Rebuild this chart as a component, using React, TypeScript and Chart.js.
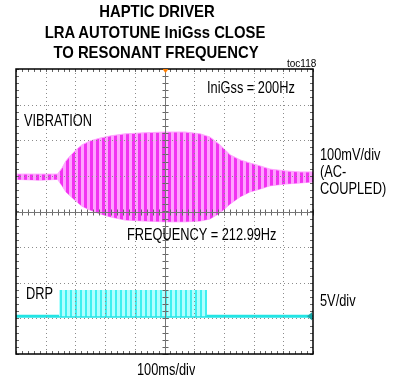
import React, { useEffect, useRef } from "react";
import { Chart, registerables } from "chart.js";
Chart.register(...registerables);

// time axis in ms (100 ms/div, 10 divisions); vertical axis in divisions (-4..4)
const X_MIN = 0;
const X_MAX = 1000;
const X_STEP = 100;
const Y_MIN = -4;
const Y_MAX = 4;

// VIBRATION trace envelope (divisions)
const VIB_TIME = [0, 80, 140, 155, 168, 182, 202, 222, 249, 283, 316, 367, 434, 502, 569, 620, 653, 687, 721, 754, 788, 822, 855, 906, 956, 1000];
const VIB_TOP = [1.05, 1.05, 1.05, 1.22, 1.42, 1.56, 1.73, 1.87, 1.98, 2.06, 2.12, 2.18, 2.21, 2.23, 2.23, 2.18, 2.09, 1.87, 1.59, 1.45, 1.36, 1.28, 1.19, 1.14, 1.11, 1.11];
const VIB_BOTTOM = [0.9, 0.88, 0.9, 0.72, 0.55, 0.44, 0.29, 0.15, 0.04, -0.07, -0.15, -0.24, -0.27, -0.29, -0.29, -0.27, -0.21, -0.04, 0.21, 0.41, 0.55, 0.63, 0.72, 0.77, 0.8, 0.83];

// DRP trace (divisions)
const DRP_LOW = -2.94;
const DRP_HIGH = -2.2;
const DRP_TIME = [0, 145, 145, 643, 643, 1000];
const DRP_LEVEL = [DRP_LOW, DRP_LOW, DRP_HIGH, DRP_HIGH, DRP_LOW, DRP_LOW];

const TITLE_LINES = ["HAPTIC DRIVER", "LRA AUTOTUNE IniGss CLOSE", "TO RESONANT FREQUENCY"];

function makePattern(a: string, b: string, wa: number, wb: number) {
  const c = document.createElement("canvas");
  c.width = wa + wb;
  c.height = 4;
  const g = c.getContext("2d")!;
  g.fillStyle = a;
  g.fillRect(0, 0, wa, 4);
  g.fillStyle = b;
  g.fillRect(wa, 0, wb, 4);
  return g.createPattern(c, "repeat")!;
}

const graticule = {
  id: "graticule",
  afterDatasetsDraw(chart: any) {
    const { ctx, chartArea, scales } = chart;
    const { left, right, top, bottom } = chartArea;
    const xs = scales.x;
    const ys = scales.y;
    ctx.save();
    // dotted grid
    ctx.strokeStyle = "#8c8c8c";
    ctx.lineWidth = 1;
    ctx.setLineDash([1, 3]);
    for (let v = X_MIN + X_STEP; v < X_MAX; v += X_STEP) {
      const px = Math.round(xs.getPixelForValue(v)) + 0.5;
      ctx.beginPath();
      ctx.moveTo(px, top);
      ctx.lineTo(px, bottom);
      ctx.stroke();
    }
    for (let v = Y_MIN + 1; v < Y_MAX; v += 1) {
      const py = Math.round(ys.getPixelForValue(v)) + 0.5;
      ctx.beginPath();
      ctx.moveTo(left, py);
      ctx.lineTo(right, py);
      ctx.stroke();
    }
    ctx.setLineDash([]);
    // minor ticks
    ctx.strokeStyle = "#666";
    const cx = Math.round(xs.getPixelForValue((X_MIN + X_MAX) / 2)) + 0.5;
    const cy = Math.round(ys.getPixelForValue(0)) + 0.5;
    ctx.beginPath();
    for (let v = X_MIN; v <= X_MAX; v += X_STEP / 5) {
      const px = Math.round(xs.getPixelForValue(v)) + 0.5;
      ctx.moveTo(px, cy - 3);
      ctx.lineTo(px, cy + 3);
      ctx.moveTo(px, top);
      ctx.lineTo(px, top + 3);
      ctx.moveTo(px, bottom);
      ctx.lineTo(px, bottom - 3);
    }
    for (let v = Y_MIN; v <= Y_MAX + 1e-9; v += 0.2) {
      const py = Math.round(ys.getPixelForValue(v)) + 0.5;
      ctx.moveTo(cx - 3, py);
      ctx.lineTo(cx + 3, py);
      ctx.moveTo(left, py);
      ctx.lineTo(left + 3, py);
      ctx.moveTo(right, py);
      ctx.lineTo(right - 3, py);
    }
    ctx.stroke();
    ctx.strokeStyle = "#777";
    ctx.beginPath();
    ctx.moveTo(cx, top);
    ctx.lineTo(cx, bottom);
    ctx.moveTo(left, cy);
    ctx.lineTo(right, cy);
    ctx.stroke();
    // border
    ctx.strokeStyle = "#000";
    ctx.lineWidth = 1.5;
    ctx.strokeRect(left, top, right - left, bottom - top);
    // trigger marker
    ctx.fillStyle = "#ff7f00";
    ctx.beginPath();
    ctx.moveTo(cx - 3, top);
    ctx.lineTo(cx + 3, top);
    ctx.lineTo(cx, top + 4);
    ctx.closePath();
    ctx.fill();
    // DRP ground marker
    const gy = ys.getPixelForValue(DRP_LOW);
    ctx.fillStyle = "#1aa8a8";
    ctx.beginPath();
    ctx.moveTo(right - 1, gy - 4);
    ctx.lineTo(right - 1, gy + 4);
    ctx.lineTo(right - 6, gy);
    ctx.closePath();
    ctx.fill();
    ctx.restore();
  },
};

function Label(props: { text: string; x: number; base: number; size?: number; sx?: number; bold?: boolean; center?: boolean }) {
  const fs = props.size ?? 16;
  const sx = props.sx ?? 0.8;
  const top = props.base - 0.8465 * fs;
  const style: React.CSSProperties = {
    position: "absolute",
    left: props.x,
    top,
    fontFamily: "'Liberation Sans', Arial, sans-serif",
    fontSize: fs,
    lineHeight: `${fs}px`,
    fontWeight: props.bold ? 700 : 400,
    whiteSpace: "nowrap",
    color: "#000",
    transformOrigin: props.center ? "center" : "left",
    transform: props.center ? `translateX(-50%) scaleX(${sx})` : `scaleX(${sx})`,
  };
  return <div style={style}>{props.text}</div>;
}

export default function App() {
  const ref = useRef<HTMLCanvasElement>(null);
  useEffect(() => {
    const canvas = ref.current!;
    const vibPattern = makePattern("#f232f2", "#ffa2ff", 3, 3);
    const drpPattern = makePattern("#3ef0f0", "#b0ffff", 2, 3);
    const chart = new Chart(canvas, {
      type: "line",
      data: {
        datasets: [
          {
            label: "VIBRATION top",
            data: VIB_TIME.map((t, i) => ({ x: t, y: VIB_TOP[i] })),
            borderColor: "#ffa6ff",
            borderWidth: 1,
            backgroundColor: vibPattern as any,
            fill: "+1",
            pointRadius: 0,
          },
          {
            label: "VIBRATION bottom",
            data: VIB_TIME.map((t, i) => ({ x: t, y: VIB_BOTTOM[i] })),
            borderColor: "#ffa6ff",
            borderWidth: 1,
            fill: false,
            pointRadius: 0,
          },
          {
            label: "DRP",
            data: DRP_TIME.map((t, i) => ({ x: t, y: DRP_LEVEL[i] })),
            borderColor: "rgba(0,0,0,0)",
            borderWidth: 0,
            backgroundColor: drpPattern as any,
            fill: { value: DRP_LOW },
            pointRadius: 0,
          },
          {
            label: "DRP baseline",
            data: [
              { x: X_MIN, y: DRP_LOW },
              { x: X_MAX, y: DRP_LOW },
            ],
            borderColor: "#22e4e4",
            borderWidth: 3,
            fill: false,
            pointRadius: 0,
          },
        ],
      },
      options: {
        responsive: false,
        animation: false,
        events: [],
        layout: { padding: { left: 16, right: 83, top: 69, bottom: 25 } },
        plugins: { legend: { display: false }, tooltip: { enabled: false }, title: { display: false } },
        elements: { line: { tension: 0 }, point: { radius: 0 } },
        scales: {
          x: { type: "linear", min: X_MIN, max: X_MAX, display: false },
          y: { type: "linear", min: Y_MIN, max: Y_MAX, display: false },
        },
      },
      plugins: [graticule],
    });
    return () => chart.destroy();
  }, []);

  return (
    <div style={{ position: "absolute", left: 0, top: 0, width: 396, height: 379, background: "#fff", overflow: "hidden" }}>
      <canvas ref={ref} width={396} height={379} style={{ position: "absolute", left: 0, top: 0 }} />
      <Label text={TITLE_LINES[0]} x={157} base={17} size={16.5} sx={0.9} bold center />
      <Label text={TITLE_LINES[1]} x={155} base={37.5} size={16.5} sx={0.9} bold center />
      <Label text={TITLE_LINES[2]} x={156} base={58} size={16.5} sx={0.9} bold center />
      <Label text="toc118" x={287} base={67} size={10} sx={1} />
      <Label text="IniGss = 200Hz" x={207} base={94} />
      <Label text="VIBRATION" x={24} base={127} />
      <Label text="FREQUENCY = 212.99Hz" x={127} base={241} />
      <Label text="DRP" x={26} base={300} />
      <Label text="100mV/div" x={320} base={161} />
      <Label text="(AC-" x={320} base={178} />
      <Label text="COUPLED)" x={320} base={195} />
      <Label text="5V/div" x={320} base={307} />
      <Label text="100ms/div" x={137} base={376} />
    </div>
  );
}
